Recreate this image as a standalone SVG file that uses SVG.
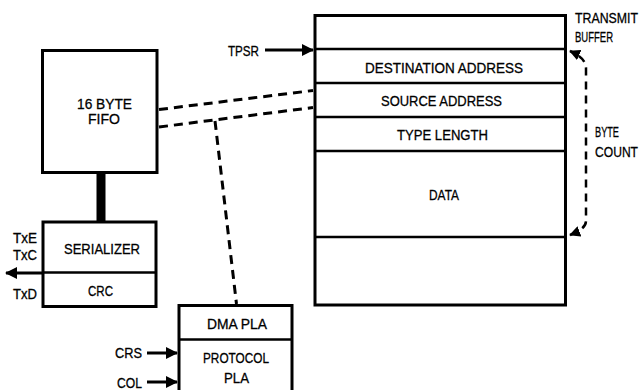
<svg xmlns="http://www.w3.org/2000/svg" width="641" height="390" viewBox="0 0 641 390">
<style>
text{font-family:"Liberation Sans",Arial,sans-serif;font-size:15px;fill:#000;stroke:#000;stroke-width:0.3}
.c{text-anchor:middle}
.r{text-anchor:end}
.box{fill:#fff;stroke:#000;stroke-width:3}
.div{stroke:#000;stroke-width:2.5;fill:none}
.sol{stroke:#000;stroke-width:3;fill:none}
.dash{stroke:#000;stroke-width:3;fill:none;stroke-dasharray:9 6}
.dash2{stroke:#000;stroke-width:2.5;fill:none;stroke-dasharray:8 6}
</style>
<defs>
<marker id="ah" viewBox="0 0 12 12" refX="11" refY="6" markerWidth="12" markerHeight="12" markerUnits="userSpaceOnUse" orient="auto-start-reverse">
<path d="M0,0 L12,6 L0,12 Z" fill="#000"/>
</marker>
<marker id="ah2" viewBox="0 0 12 12" refX="11" refY="6" markerWidth="11" markerHeight="11" markerUnits="userSpaceOnUse" orient="auto-start-reverse">
<path d="M0,0 L12,6 L0,12 Z" fill="#000"/>
</marker>
</defs>
<g id="connectors">
<rect x="96.5" y="172" width="9" height="50" fill="#000"/>
<line class="dash" x1="159" y1="109.5" x2="313" y2="90.5"/>
<line class="dash" x1="159" y1="127" x2="313" y2="107.5"/>
<line class="dash" x1="215" y1="121" x2="236.5" y2="304"/>
<line class="sol" x1="265" y1="50" x2="313" y2="50" marker-end="url(#ah)"/>
<line class="sol" x1="42" y1="273" x2="6" y2="273" marker-end="url(#ah)"/>
<line class="sol" x1="147" y1="353" x2="177" y2="353" marker-end="url(#ah)"/>
<line class="sol" x1="147" y1="382" x2="177" y2="382" marker-end="url(#ah)"/>
<path class="dash2" d="M570,235 Q586,229 586,221 L586,68 Q586,58 570,51" marker-start="url(#ah2)" marker-end="url(#ah2)"/>
</g>
<g id="transmit-buffer">
<rect class="box" x="315" y="15.5" width="250.5" height="289.5"/>
<line class="div" x1="315" y1="49" x2="565.5" y2="49"/>
<line class="div" x1="315" y1="83" x2="565.5" y2="83"/>
<line class="div" x1="315" y1="117" x2="565.5" y2="117"/>
<line class="div" x1="315" y1="151" x2="565.5" y2="151"/>
<line class="div" x1="315" y1="237" x2="565.5" y2="237"/>
<text class="c" x="444" y="73" textLength="158" lengthAdjust="spacingAndGlyphs">DESTINATION ADDRESS</text>
<text class="c" x="441.5" y="106" textLength="121" lengthAdjust="spacingAndGlyphs">SOURCE ADDRESS</text>
<text class="c" x="442.5" y="140" textLength="91" lengthAdjust="spacingAndGlyphs">TYPE LENGTH</text>
<text class="c" x="444" y="200" textLength="30" lengthAdjust="spacingAndGlyphs">DATA</text>
<text x="575" y="23" textLength="63" lengthAdjust="spacingAndGlyphs">TRANSMIT</text>
<text x="575" y="42" textLength="38" lengthAdjust="spacingAndGlyphs">BUFFER</text>
<text x="595" y="137" textLength="24" lengthAdjust="spacingAndGlyphs">BYTE</text>
<text x="595" y="157" textLength="43" lengthAdjust="spacingAndGlyphs">COUNT</text>
<text x="228" y="56" textLength="31" lengthAdjust="spacingAndGlyphs">TPSR</text>
</g>
<g id="fifo">
<rect class="box" x="42.5" y="50.5" width="114.5" height="122"/>
<text class="c" x="104.5" y="109" textLength="55" lengthAdjust="spacingAndGlyphs">16 BYTE</text>
<text class="c" x="104" y="124" textLength="32" lengthAdjust="spacingAndGlyphs">FIFO</text>
</g>
<g id="serializer">
<rect class="box" x="43" y="222" width="113" height="84.5"/>
<line class="div" x1="43" y1="272.5" x2="156" y2="272.5"/>
<text class="c" x="102" y="254" textLength="76" lengthAdjust="spacingAndGlyphs">SERIALIZER</text>
<text class="c" x="100.5" y="296" textLength="25" lengthAdjust="spacingAndGlyphs">CRC</text>
<text class="r" x="37" y="243" textLength="24" lengthAdjust="spacingAndGlyphs">TxE</text>
<text class="r" x="37" y="260" textLength="24" lengthAdjust="spacingAndGlyphs">TxC</text>
<text class="r" x="37" y="299" textLength="24" lengthAdjust="spacingAndGlyphs">TxD</text>
</g>
<g id="pla">
<rect class="box" x="179" y="305.5" width="113" height="100"/>
<line class="div" x1="179" y1="339.5" x2="292" y2="339.5"/>
<text class="c" x="237" y="329" textLength="60" lengthAdjust="spacingAndGlyphs">DMA PLA</text>
<text class="c" x="236" y="363" textLength="66" lengthAdjust="spacingAndGlyphs">PROTOCOL</text>
<text class="c" x="236.5" y="383" textLength="25" lengthAdjust="spacingAndGlyphs">PLA</text>
<text class="r" x="142" y="358" textLength="27" lengthAdjust="spacingAndGlyphs">CRS</text>
<text class="r" x="142" y="388" textLength="25" lengthAdjust="spacingAndGlyphs">COL</text>
</g>
</svg>
